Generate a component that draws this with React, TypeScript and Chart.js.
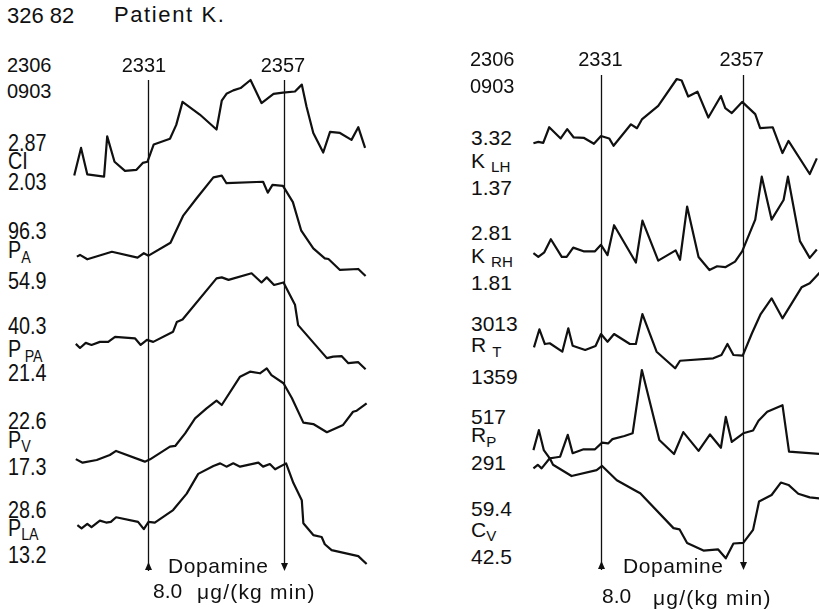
import React, { useEffect, useRef } from "react";
import { Chart, registerables } from "chart.js";

Chart.register(...registerables);

// ---------------- DATA ----------------
const HEADER_ID = "326 82";
const HEADER_NAME = "Patient K.";
const START_LABELS = ["2306", "0903"];
const MARK_LABELS = ["2331", "2357"];
const MARK_TIMES = [25, 51]; // minutes after 2306
const DOSE_TEXT = "Dopamine";
const DOSE_VALUE = "8.0";
const DOSE_UNIT = "\u03bcg/(kg min)";

// left panel
const CI_T = [10.9, 12.2, 13.4, 16.6, 17.2, 18.6, 20.6, 22.8, 24.0, 24.9, 26.1, 29.2, 30.4, 31.6, 34.9, 38.1, 39.1, 40.0, 41.3, 42.7, 44.6, 46.7, 49.0, 50.8, 53.1, 54.4, 55.3, 56.6, 58.5, 59.8, 61.7, 63.9, 65.2, 66.5];
const CI_V = [2.04, 2.28, 2.05, 2.03, 2.38, 2.16, 2.08, 2.09, 2.15, 2.16, 2.31, 2.36, 2.48, 2.68, 2.57, 2.44, 2.69, 2.75, 2.78, 2.80, 2.87, 2.67, 2.75, 2.76, 2.77, 2.83, 2.64, 2.41, 2.24, 2.42, 2.41, 2.35, 2.46, 2.28];

const PA_T = [11.4, 12.0, 13.4, 18.1, 23.0, 24.2, 25.1, 29.3, 31.7, 34.3, 37.5, 39.1, 40.0, 47.0, 47.9, 48.8, 50.8, 52.7, 54.3, 56.6, 58.8, 59.5, 61.7, 65.2, 66.6];
const PA_V = [62.9, 63.6, 61.8, 64.9, 62.5, 64.3, 63.3, 68.6, 79.7, 87.0, 95.6, 96.3, 93.2, 93.8, 89.3, 92.5, 92.1, 85.4, 73.6, 66.3, 62.2, 61.9, 57.4, 57.8, 54.9];

const PPA_T = [11.2, 12.0, 13.1, 14.2, 15.8, 17.4, 18.7, 22.5, 23.6, 24.8, 26.0, 29.8, 30.5, 31.6, 38.1, 39.1, 40.4, 44.8, 46.7, 47.7, 49.1, 50.9, 53.1, 53.7, 59.2, 60.4, 62.0, 63.3, 65.2, 66.6];
const PPA_V = [26.4, 25.6, 26.6, 26.2, 26.8, 26.8, 27.8, 27.5, 26.2, 27.2, 26.8, 28.8, 30.7, 31.2, 39.3, 39.5, 39.0, 40.3, 38.5, 39.5, 38.0, 38.5, 34.1, 30.1, 23.6, 23.9, 24.0, 22.6, 22.8, 21.4];

const PV_T = [11.2, 12.5, 15.2, 17.7, 18.9, 24.4, 25.4, 29.2, 30.2, 32.1, 34.0, 36.2, 38.1, 39.1, 42.6, 44.5, 46.4, 47.7, 48.6, 50.9, 52.5, 54.7, 56.6, 59.2, 62.3, 64.2, 64.9, 66.8];
const PV_V = [17.5, 17.3, 17.45, 17.73, 17.96, 17.36, 17.49, 18.2, 18.24, 18.95, 19.79, 20.35, 20.78, 20.54, 22.13, 22.41, 22.32, 22.6, 22.22, 21.76, 20.93, 19.55, 19.47, 19.01, 19.42, 20.16, 20.22, 20.63];

const PLA_T = [11.5, 12.3, 13.4, 14.2, 15.8, 17.0, 17.9, 18.9, 23.1, 24.2, 25.1, 26.3, 29.8, 32.4, 34.6, 37.5, 38.8, 40.0, 41.3, 42.6, 46.1, 47.0, 48.3, 49.3, 51.4, 52.8, 54.4, 54.7, 56.6, 58.2, 58.8, 60.1, 65.2, 66.8];
const PLA_V = [19.1, 18.6, 19.3, 18.8, 19.8, 19.5, 19.6, 20.3, 19.6, 18.5, 19.6, 19.5, 21.4, 23.9, 26.9, 28.1, 28.5, 28.0, 28.5, 28.0, 28.6, 28.0, 28.4, 27.6, 28.5, 25.5, 22.9, 19.4, 17.6, 17.3, 16.2, 15.3, 14.4, 13.2];

// right panel
const KLH_T = [12.6, 13.5, 14.4, 15.5, 17.6, 18.8, 20.0, 21.9, 23.7, 25.0, 26.5, 27.3, 30.5, 31.6, 32.5, 35.5, 38.9, 39.8, 41.0, 42.7, 44.7, 47.0, 47.8, 49.0, 50.9, 53.3, 54.2, 56.5, 58.3, 59.4, 63.3, 64.6];
const KLH_V = [2.00, 2.03, 2.01, 2.33, 2.10, 2.29, 2.12, 2.11, 1.99, 2.15, 2.10, 1.95, 2.39, 2.31, 2.49, 2.77, 3.32, 3.29, 2.96, 3.06, 2.53, 2.97, 2.72, 2.62, 2.85, 2.60, 2.31, 2.33, 1.80, 2.05, 1.37, 1.69];

const KRH_T = [12.6, 13.5, 14.6, 15.8, 17.8, 18.7, 19.9, 21.8, 23.9, 25.0, 26.2, 27.4, 31.4, 32.6, 35.5, 38.7, 39.5, 40.8, 42.9, 44.9, 46.3, 47.8, 49.6, 50.9, 53.3, 54.5, 56.3, 58.5, 59.3, 61.5, 63.3, 64.6];
const KRH_V = [1.99, 1.95, 2.00, 2.14, 1.95, 1.95, 2.05, 2.01, 2.01, 2.08, 1.97, 2.29, 1.89, 2.34, 1.91, 2.02, 1.92, 2.49, 1.95, 1.81, 1.85, 1.84, 1.90, 2.01, 2.35, 2.81, 2.35, 2.56, 2.81, 2.12, 1.94, 2.03];

const RT_T = [12.7, 13.7, 14.7, 15.6, 17.9, 19.0, 19.8, 22.1, 24.0, 25.0, 26.2, 27.4, 30.3, 31.4, 32.6, 35.2, 38.6, 39.5, 45.6, 47.1, 48.2, 49.3, 51.0, 52.7, 54.3, 56.3, 58.3, 61.8, 63.3, 65.1];
const RT_V = [1722, 2034, 1779, 1792, 1646, 2051, 1750, 1676, 1745, 1952, 1819, 1952, 1779, 1779, 2298, 1646, 1359, 1490, 1532, 1589, 1779, 1589, 1577, 1965, 2298, 2570, 2224, 2760, 2830, 3013];

const RP_T = [12.6, 13.6, 14.5, 15.6, 16.6, 17.5, 18.9, 19.8, 21.8, 23.9, 25.2, 26.3, 27.1, 29.3, 30.8, 32.5, 35.7, 38.4, 40.1, 42.9, 45.0, 47.0, 47.9, 49.0, 51.1, 52.9, 53.9, 55.5, 58.3, 59.5, 65.1];
const RP_V = [312, 363, 312, 291, 293, 295, 351, 304, 314, 314, 331, 329, 340, 348, 355, 517, 338, 302, 358, 310, 352, 318, 397, 333, 355, 362, 387, 410, 427, 308, 302];

const CV_T = [12.6, 13.4, 14.1, 15.6, 16.2, 19.6, 24.2, 25.2, 27.9, 31.6, 32.2, 38.3, 39.4, 40.8, 43.8, 46.5, 47.9, 49.3, 51.1, 52.9, 54.0, 56.3, 58.0, 59.4, 61.2, 63.3, 65.1];
const CV_V = [57.7, 58.3, 57.7, 59.4, 58.3, 56.4, 57.4, 58.1, 55.7, 53.8, 53.5, 47.6, 47.4, 45.1, 43.8, 44.0, 42.5, 45.0, 45.1, 47.3, 52.1, 53.2, 55.3, 54.9, 53.4, 52.8, 52.6];

// label texts: [max, name, subscript, min]
const LEFT_LABELS = [
  ["2.87", "CI", "", "2.03"],
  ["96.3", "P", "A", "54.9"],
  ["40.3", "P", "PA", "21.4"],
  ["22.6", "P", "V", "17.3"],
  ["28.6", "P", "LA", "13.2"],
];
const RIGHT_LABELS = [
  ["3.32", "K", "LH", "1.37"],
  ["2.81", "K", "RH", "1.81"],
  ["3013", "R", "T", "1359"],
  ["517", "R", "P", "291"],
  ["59.4", "C", "V", "42.5"],
];
const LEFT_SERIES = [[CI_T, CI_V], [PA_T, PA_V], [PPA_T, PPA_V], [PV_T, PV_V], [PLA_T, PLA_V]];
const RIGHT_SERIES = [[KLH_T, KLH_V], [KRH_T, KRH_V], [RT_T, RT_V], [RP_T, RP_V], [CV_T, CV_V]];

// ---------------- LAYOUT ----------------
const FONT = '"Liberation Sans", Arial, sans-serif';
const INK = "#101010";
const H = 610;

const PANELS = [
  {
    labels: LEFT_LABELS,
    series: LEFT_SERIES,
    canvasLeft: 62,
    canvasWidth: 316,
    linePx: 148,
    pxPerMin: 136 / 26,
    bands: [[80, 176.7], [175.7, 276], [273.3, 369.3], [368.3, 462.7], [462.7, 564]],
    lineTop: 80,
    lineBottom: 571,
    labelX: 8,
    labelCy: [[143, 161.5, 182.5], [231.5, 250.5, 281], [326, 349.5, 373], [421, 440, 467], [510, 528, 555]],
    labelFs: 23,
    labelSx: 0.86,
    subGap: [0, 0, 4, 0, 0],
    startX: 7,
    startCy: [64.5, 91],
    markCy: 64.5,
    markX: [144, 283],
    doseX: 168, doseCy: 565,
    valX: 153, valCy: 590,
    unitX: 197, unitCy: 591,
  },
  {
    labels: RIGHT_LABELS,
    series: RIGHT_SERIES,
    canvasLeft: 520,
    canvasWidth: 299,
    linePx: 601,
    pxPerMin: 141.7 / 26,
    bands: [[79, 174], [176.7, 270], [272.7, 368.3], [370, 458.3], [458.3, 558.3]],
    lineTop: 75,
    lineBottom: 570,
    labelX: 471,
    labelCy: [[137, 160, 187], [232, 255, 282], [323.5, 344.5, 376], [416, 434.5, 462.5], [508, 529, 556]],
    labelFs: 21,
    labelSx: 1,
    subGap: [6, 6, 6, 0, 0],
    startX: 470,
    startCy: [58.5, 85.5],
    markCy: 58.5,
    markX: [600.5, 741.7],
    doseX: 623, doseCy: 565,
    valX: 602, valCy: 595,
    unitX: 653, unitCy: 597,
  },
];

const markerPlugin = {
  id: "markers",
  afterDatasetsDraw(chart: any, _args: any, opts: any) {
    const { ctx } = chart;
    const x = chart.scales.x;
    ctx.save();
    ctx.strokeStyle = INK;
    ctx.fillStyle = INK;
    ctx.lineWidth = 1.3;
    (opts.times as number[]).forEach((t, i) => {
      const px = Math.round(x.getPixelForValue(t)) + 0.5;
      const up = i === 0;
      ctx.beginPath();
      ctx.moveTo(px, opts.top);
      ctx.lineTo(px, up ? opts.bottom : opts.bottom - 7);
      ctx.stroke();
      ctx.beginPath();
      if (up) {
        ctx.moveTo(px, opts.bottom - 9);
        ctx.lineTo(px - 3.5, opts.bottom - 1);
        ctx.lineTo(px + 3.5, opts.bottom - 1);
      } else {
        ctx.moveTo(px, opts.bottom);
        ctx.lineTo(px - 3.5, opts.bottom - 8);
        ctx.lineTo(px + 3.5, opts.bottom - 8);
      }
      ctx.closePath();
      ctx.fill();
    });
    ctx.restore();
  },
};

function Panel({ p }: { p: any }) {
  const ref = useRef<HTMLCanvasElement>(null);
  useEffect(() => {
    if (!ref.current) return;
    const tMin = MARK_TIMES[0] + (p.canvasLeft - p.linePx) / p.pxPerMin;
    const tMax = MARK_TIMES[0] + (p.canvasLeft + p.canvasWidth - p.linePx) / p.pxPerMin;
    const scales: any = {
      x: { type: "linear", min: tMin, max: tMax, display: false, bounds: "data" },
    };
    const datasets = p.series.map((s: number[][], i: number) => {
      const [pT, pB] = p.bands[i];
      const vMax = parseFloat(p.labels[i][0]);
      const vMin = parseFloat(p.labels[i][3]);
      const R = ((vMax - vMin) * H) / (pB - pT);
      const max = vMax + (pT * R) / H;
      scales["y" + i] = { type: "linear", display: false, min: max - R, max, bounds: "data" };
      return {
        label: p.labels[i][1] + p.labels[i][2],
        data: s[0].map((t, k) => ({ x: t, y: s[1][k] })),
        yAxisID: "y" + i,
        borderColor: INK,
        borderWidth: 2.2,
        pointRadius: 0,
        tension: 0,
        fill: false,
        borderJoinStyle: "round",
      };
    });
    const chart = new Chart(ref.current, {
      type: "line",
      data: { datasets },
      options: {
        responsive: false,
        animation: false,
        layout: { padding: 0 },
        scales,
        plugins: {
          legend: { display: false },
          tooltip: { enabled: false },
          markers: { times: MARK_TIMES, top: p.lineTop, bottom: p.lineBottom },
        } as any,
        events: [],
      },
      plugins: [markerPlugin],
    } as any);
    return () => chart.destroy();
  }, [p]);
  return (
    <canvas
      ref={ref}
      width={p.canvasWidth}
      height={H}
      style={{ position: "absolute", left: p.canvasLeft, top: 0, width: p.canvasWidth, height: H }}
    />
  );
}

function Txt({ x, cy, fs, children, sx = 1, center = false, ls = 0 }: any) {
  return (
    <div
      style={{
        position: "absolute",
        left: x,
        top: cy - fs / 2,
        fontSize: fs,
        lineHeight: fs + "px",
        fontFamily: FONT,
        color: INK,
        whiteSpace: "nowrap",
        letterSpacing: ls,
        transform: (center ? "translateX(-50%) " : "") + `scaleX(${sx})`,
        transformOrigin: center ? "center center" : "left center",
      }}
    >
      {children}
    </div>
  );
}

function PanelText({ p }: { p: any }) {
  return (
    <>
      {START_LABELS.map((s, i) => (
        <Txt key={"s" + i} x={p.startX} cy={p.startCy[i]} fs={20}>{s}</Txt>
      ))}
      {MARK_LABELS.map((s, i) => (
        <Txt key={"m" + i} x={p.markX[i]} cy={p.markCy} fs={20} center>{s}</Txt>
      ))}
      {p.labels.map((l: string[], i: number) => (
        <React.Fragment key={"l" + i}>
          <Txt x={p.labelX} cy={p.labelCy[i][0]} fs={p.labelFs} sx={p.labelSx}>{l[0]}</Txt>
          <Txt x={p.labelX} cy={p.labelCy[i][1]} fs={p.labelFs} sx={p.labelSx}>
            <span>{l[1]}</span>
            {l[2] ? (
              <span style={{ fontSize: "0.72em", position: "relative", top: "0.3em", marginLeft: p.subGap[i] }}>{l[2]}</span>
            ) : null}
          </Txt>
          <Txt x={p.labelX} cy={p.labelCy[i][2]} fs={p.labelFs} sx={p.labelSx}>{l[3]}</Txt>
        </React.Fragment>
      ))}
      <Txt x={p.doseX} cy={p.doseCy} fs={21} ls={0.6}>{DOSE_TEXT}</Txt>
      <Txt x={p.valX} cy={p.valCy} fs={21}>{DOSE_VALUE}</Txt>
      <Txt x={p.unitX} cy={p.unitCy} fs={21} ls={1.2}>{DOSE_UNIT}</Txt>
    </>
  );
}

export default function App() {
  return (
    <div
      style={{
        position: "fixed",
        left: 0,
        top: 0,
        width: 819,
        height: 610,
        background: "#fff",
        overflow: "hidden",
      }}
    >
      <Txt x={7} cy={16} fs={22}>{HEADER_ID}</Txt>
      <Txt x={114} cy={15} fs={22} ls={1.6}>{HEADER_NAME}</Txt>
      {PANELS.map((p, i) => (
        <React.Fragment key={i}>
          <Panel p={p} />
          <PanelText p={p} />
        </React.Fragment>
      ))}
    </div>
  );
}
